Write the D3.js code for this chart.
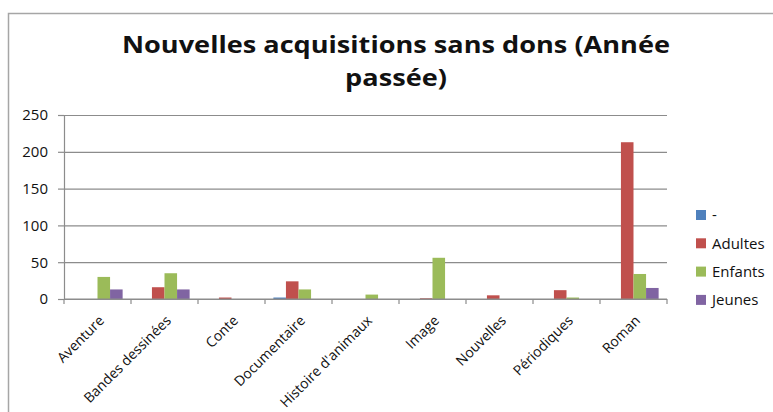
<!DOCTYPE html>
<html>
<head>
<meta charset="utf-8">
<script src="https://cdn.jsdelivr.net/npm/d3@7"></script>
<style>
  body { margin: 0; background: #fff; }
  svg { display: block; }
</style>
</head>
<body>
<svg id="chart" width="773" height="412"></svg>
<script>
const categories = ["Aventure", "Bandes dessinées", "Conte", "Documentaire", "Histoire d'animaux", "Image", "Nouvelles", "Périodiques", "Roman"]
const seriesNames = ["-", "Adultes", "Enfants", "Jeunes"]
const seriesColors = ["#4f81bd", "#c0504d", "#9bbb59", "#8064a2"]
const valuesDash    = [0, 0, 0, 2, 0, 0, 0, 0, 0]
const valuesAdultes = [0, 16, 2, 24, 0, 1, 5, 12, 213]
const valuesEnfants = [30, 35, 0, 13, 6, 56, 0, 2, 34]
const valuesJeunes  = [13, 13, 0, 0, 0, 0, 0, 0, 15]
const yTicks = [0, 50, 100, 150, 200, 250]

const allValues = [valuesDash, valuesAdultes, valuesEnfants, valuesJeunes]
const font = "'Open Sans', 'DejaVu Sans', sans-serif"

let svg = d3.select('#chart')

// outer frame, runs off the right and bottom edges like the screenshot
svg.append('rect')
    .attr('x', 8.5)
    .attr('y', 13.5)
    .attr('width', 800)
    .attr('height', 450)
    .attr('fill', 'white')
    .attr('stroke', '#a6a6a6')
    .attr('stroke-width', 1.5)

// title, two lines, stretched to the reference width
let titleLines = ["Nouvelles acquisitions sans dons (Année", "passée)"]
let title1 = svg.append('text')
    .attr('x', 396)
    .attr('y', 53)
    .attr('text-anchor', 'middle')
    .attr('font-family', font)
    .attr('font-weight', 'bold')
    .attr('font-size', '24px')
    .attr('fill', '#111')
    .text(titleLines[0])
let ratio = 548 / title1.node().getComputedTextLength()
title1.attr('textLength', 548).attr('lengthAdjust', 'spacingAndGlyphs')
let title2 = svg.append('text')
    .attr('x', 396)
    .attr('y', 86)
    .attr('text-anchor', 'middle')
    .attr('font-family', font)
    .attr('font-weight', 'bold')
    .attr('font-size', '24px')
    .attr('fill', '#111')
    .text(titleLines[1])
title2.attr('textLength', title2.node().getComputedTextLength() * ratio).attr('lengthAdjust', 'spacingAndGlyphs')

let plot = {left: 64, right: 667, top: 115, bottom: 299}

let x0 = d3.scaleBand()
    .domain(categories)
    .range([plot.left, plot.right])
    .paddingInner(0)
    .paddingOuter(0)

let x1 = d3.scaleBand()
    .domain(seriesNames)
    .range([0, x0.bandwidth() * 0.75])

let y = d3.scaleLinear()
    .domain([0, 250])
    .range([plot.bottom, plot.top])

// gridlines
svg.append('g')
    .attr('transform', 'translate(' + plot.left + ',0)')
    .call(d3.axisLeft(y).tickValues(yTicks).tickSize(-(plot.right - plot.left)).tickFormat(''))
    .call(g => g.select('.domain').remove())
    .selectAll('line')
    .attr('stroke', '#8c8c8c')
    .attr('stroke-width', 1.2)

// y axis
let yAxis = svg.append('g')
    .attr('transform', 'translate(' + plot.left + ',0)')
    .call(d3.axisLeft(y).tickValues(yTicks).tickSize(6).tickPadding(10))
yAxis.select('.domain').attr('stroke', '#8c8c8c').attr('stroke-width', 1.2)
yAxis.selectAll('line').attr('stroke', '#8c8c8c').attr('stroke-width', 1.2)
yAxis.selectAll('text')
    .attr('font-family', font)
    .attr('font-size', '15px')
    .attr('fill', '#111')

// bars
let offset = (x0.bandwidth() - x0.bandwidth() * 0.75) / 2
seriesNames.forEach(function(name, s) {
    svg.append('g')
        .selectAll('rect')
        .data(categories)
        .join('rect')
        .attr('x', d => x0(d) + offset + x1(name))
        .attr('width', x1.bandwidth())
        .attr('y', (d, i) => y(allValues[s][i]))
        .attr('height', (d, i) => plot.bottom - y(allValues[s][i]))
        .attr('fill', seriesColors[s])
})

// x axis with ticks at the category boundaries
let xAxis = svg.append('g')
    .attr('transform', 'translate(0,' + plot.bottom + ')')
xAxis.append('line')
    .attr('x1', plot.left)
    .attr('x2', plot.right)
    .attr('stroke', '#8c8c8c')
    .attr('stroke-width', 1.2)
xAxis.selectAll('.tick')
    .data(categories.concat(['end']))
    .join('line')
    .attr('x1', (d, i) => i < categories.length ? x0(d) : plot.right)
    .attr('x2', (d, i) => i < categories.length ? x0(d) : plot.right)
    .attr('y1', 0)
    .attr('y2', 5)
    .attr('stroke', '#8c8c8c')
    .attr('stroke-width', 1.2)
xAxis.selectAll('text')
    .data(categories)
    .join('text')
    .attr('transform', d => 'translate(' + (x0(d) + x0.bandwidth() / 2 + 4) + ',19) rotate(-45)')
    .attr('text-anchor', 'end')
    .attr('dy', '0.35em')
    .attr('font-family', font)
    .attr('font-size', '14px')
    .attr('fill', '#111')
    .text(d => d)

// legend
let legend = svg.append('g').attr('transform', 'translate(696,210)')
seriesNames.forEach(function(name, s) {
    let row = legend.append('g').attr('transform', 'translate(0,' + (s * 28.3) + ')')
    row.append('rect')
        .attr('width', 10)
        .attr('height', 10)
        .attr('fill', seriesColors[s])
    row.append('text')
        .attr('x', 16)
        .attr('y', 5)
        .attr('dy', '0.35em')
        .attr('font-family', font)
        .attr('font-size', '15px')
        .attr('fill', '#111')
        .text(name)
})
</script>
</body>
</html>
